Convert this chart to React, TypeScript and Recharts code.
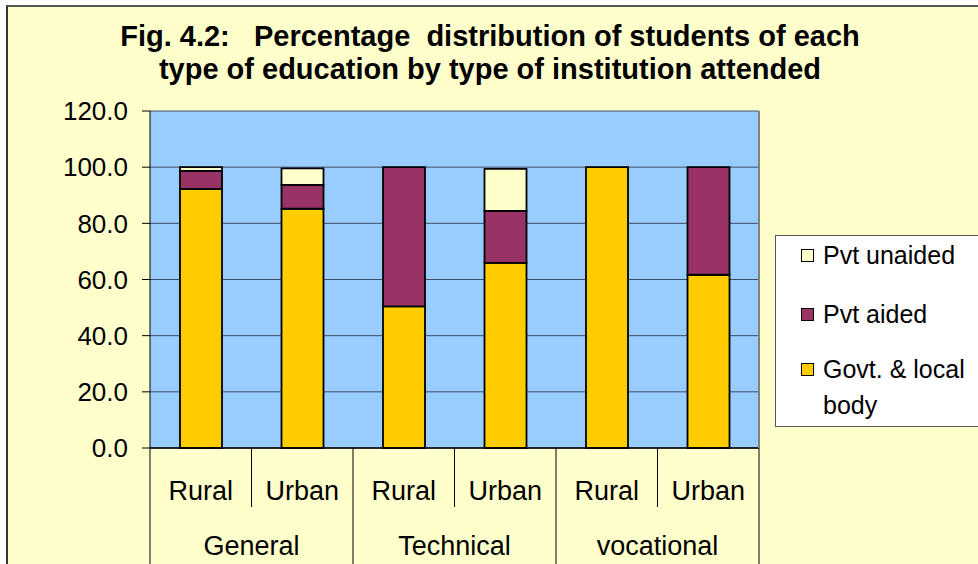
import React from 'react'
import { BarChart, Bar, XAxis, YAxis, CartesianGrid } from 'recharts'

const subLabels = ['Rural', 'Urban', 'Rural', 'Urban', 'Rural', 'Urban']
const groupLabels = ['General', 'General', 'Technical', 'Technical', 'vocational', 'vocational']
const govtLocal = [92.3, 85.2, 50.4, 65.9, 100.0, 61.7]
const pvtAided = [6.4, 8.5, 49.6, 18.5, 0, 38.3]
const pvtUnaided = [1.3, 5.9, 0, 15.0, 0, 0]
const yTicks = [0, 20, 40, 60, 80, 100, 120]

const seriesNames = ['Govt. & local body', 'Pvt aided', 'Pvt unaided']
const seriesColors = ['#FFCC00', '#993366', '#FFFFCC']

const data = subLabels.map((s, i) => ({
  key: groupLabels[i] + '|' + s,
  govt: govtLocal[i],
  aided: pvtAided[i],
  unaided: pvtUnaided[i],
}))

// layout
const W = 978
const H = 564
const PLOT_LEFT = 150
const PLOT_RIGHT = 759
const PLOT_TOP = 111
const PLOT_BOTTOM = 448
const BAND = (PLOT_RIGHT - PLOT_LEFT) / subLabels.length
const FONT = '"Liberation Sans", Arial, sans-serif'
const Y_FS = 26
const X_FS = 27
const LEG_FS = 25

function XTick(props: any) {
  const { x, y, index } = props
  const half = BAND / 2
  const groupEnd = index % 2 === 1
  const bottom = H - y
  return (
    <g>
      <text x={x} y={y + 51.5} textAnchor="middle" fontSize={X_FS} fontFamily={FONT} fill="#000">
        {subLabels[index]}
      </text>
      {index === 0 && (
        <line x1={x - half} y1={y} x2={x - half} y2={y + bottom} stroke="#000" strokeWidth={1} />
      )}
      <line x1={x + half} y1={y} x2={x + half} y2={groupEnd ? y + bottom : y + 59} stroke="#000" strokeWidth={1} />
      {index % 2 === 0 && (
        <text x={x + half} y={y + 106.5} textAnchor="middle" fontSize={X_FS} fontFamily={FONT} fill="#000">
          {groupLabels[index]}
        </text>
      )}
    </g>
  )
}

// legend box, items in reverse series order like the original
function LegendBox() {
  const items = seriesNames.map((n, i) => ({ value: n, color: seriesColors[i] })).reverse()
  const tops = [19, 78, 133]
  return (
    <div style={{
      position: 'absolute', left: 775, top: 235, width: 215, height: 192, background: '#fff',
      border: '1px solid #555', boxSizing: 'border-box', fontFamily: FONT, fontSize: LEG_FS, color: '#000',
    }}>
      {items.map((it, i) => (
        <div key={i} style={{ position: 'absolute', left: 25, top: tops[i] - 18, display: 'flex', alignItems: 'flex-start' }}>
          <span style={{
            width: 11, height: 11, background: it.color, border: '1px solid #000',
            marginTop: 12, marginRight: 9, flexShrink: 0,
          }} />
          <span style={{ width: 152, lineHeight: '36px' }}>{it.value}</span>
        </div>
      ))}
    </div>
  )
}

export default function App() {
  return (
    <div style={{ position: 'absolute', left: 0, top: 0, width: W, height: H, background: '#fff', overflow: 'hidden' }}>
      <div style={{
        position: 'absolute', left: 6, top: 5, width: 1000, height: 600,
        background: '#FFFFCC', borderLeft: '2px solid #333', borderTop: '2px solid #555',
      }} />
      <svg width={W} height={90} style={{ position: 'absolute', left: 0, top: 0 }}>
        <text x={490} y={46} textAnchor="middle" fontSize={29} fontWeight="bold" fontFamily={FONT} fill="#000" style={{ whiteSpace: 'pre' }}>
          {'Fig. 4.2:   Percentage  distribution of students of each'}
        </text>
        <text x={490} y={79} textAnchor="middle" fontSize={29} fontWeight="bold" fontFamily={FONT} fill="#000">
          type of education by type of institution attended
        </text>
      </svg>
      <div style={{ position: 'absolute', left: 0, top: 0 }}>
        <BarChart
          width={W}
          height={H}
          data={data}
          margin={{ top: PLOT_TOP, right: W - PLOT_RIGHT - 1, left: 0, bottom: 0 }}
          barSize={42}
        >
          <CartesianGrid horizontal vertical={false} stroke="#3e4e60" fill="#99CCFF" fillOpacity={1} />
          <XAxis
            dataKey="key"
            interval={0}
            height={H - PLOT_BOTTOM}
            tickSize={0}
            tickMargin={0}
            tick={<XTick />}
            axisLine={{ stroke: '#000', strokeWidth: 1.5 }}
          />
          <YAxis
            domain={[0, 120]}
            ticks={yTicks}
            width={PLOT_LEFT}
            tickSize={8}
            tickMargin={14}
            tickFormatter={(v: number) => v.toFixed(1)}
            tick={{ fontSize: Y_FS, fontFamily: FONT, fill: '#000' }}
            tickLine={{ stroke: '#000' }}
            axisLine={{ stroke: '#000' }}
          />
          <YAxis
            yAxisId="right"
            orientation="right"
            width={1}
            tick={false}
            tickLine={false}
            axisLine={{ stroke: '#808080', strokeWidth: 2 }}
          />
          <Bar dataKey="govt" name={seriesNames[0]} stackId="a" fill={seriesColors[0]} stroke="#000" strokeWidth={1.8} isAnimationActive={false} />
          <Bar dataKey="aided" name={seriesNames[1]} stackId="a" fill={seriesColors[1]} stroke="#000" strokeWidth={1.8} isAnimationActive={false} />
          <Bar dataKey="unaided" name={seriesNames[2]} stackId="a" fill={seriesColors[2]} stroke="#000" strokeWidth={1.8} isAnimationActive={false} />
        </BarChart>
      </div>
      <LegendBox />
    </div>
  )
}
